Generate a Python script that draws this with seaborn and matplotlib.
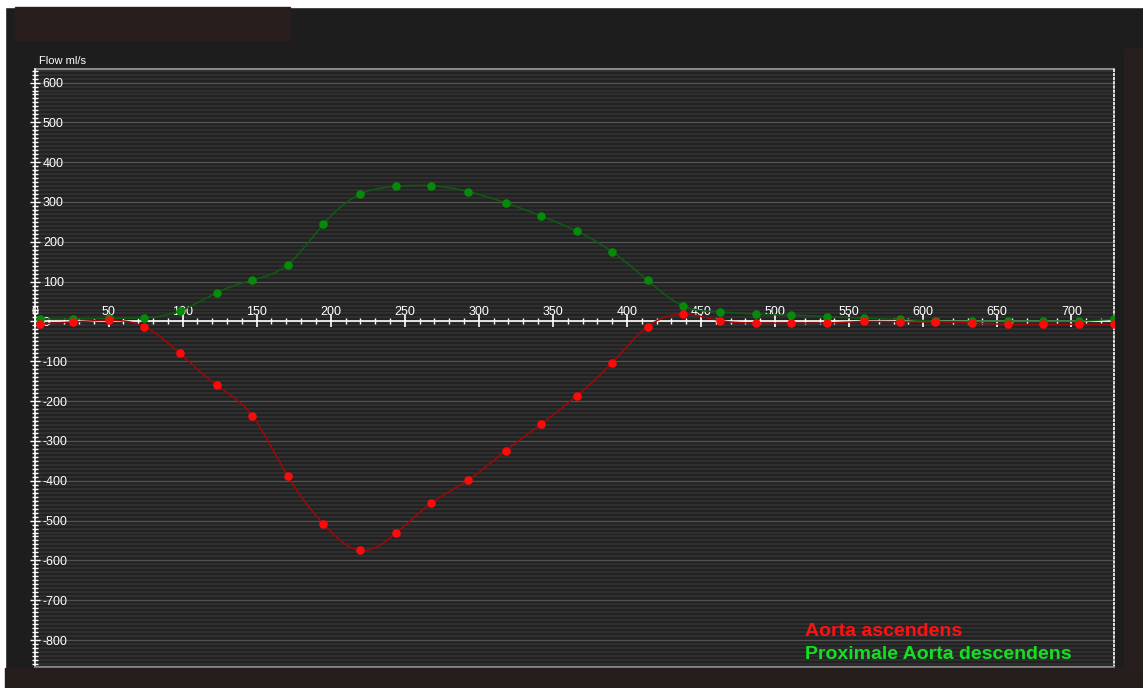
import numpy as np
import pandas as pd
import matplotlib
matplotlib.use("Agg")
import matplotlib.pyplot as plt
from matplotlib.ticker import MultipleLocator
from matplotlib.patches import Rectangle
from matplotlib.lines import Line2D
import seaborn as sns

# Flow measurements over one cardiac cycle (time in ms, flow in ml/s)
time_ms = [4, 26, 50, 74, 98, 123, 147, 171, 195, 220, 244, 268, 293, 318, 342,
           366, 390, 414, 438, 463, 487, 511, 535, 560, 584, 608, 633, 657, 681, 705, 729]
flow_ascendens = [-6, -1, 3, -13, -80, -160, -237, -389, -508, -575, -532, -456, -398, -325, -258,
                  -187, -104, -13, 18, 2, -4, -4, -4, 0, -1, -1, -4, -7, -7, -7, -7]
flow_descendens = [6, 6, 8, 9, 26, 72, 104, 143, 244, 320, 339, 341, 326, 298, 265,
                   227, 175, 103, 39, 24, 18, 16, 12, 8, 5, 1, 1, 1, 1, 1, 6]
series_names = ["Aorta ascendens", "Proximale Aorta descendens"]


def natural_spline(x, y, n=800):
    """Smooth curve through the samples (natural cubic spline)."""
    x = np.asarray(x, float)
    a = np.asarray(y, float)
    k = len(x)
    h = np.diff(x)
    A = np.zeros((k, k))
    r = np.zeros(k)
    A[0, 0] = A[-1, -1] = 1.0
    for i in range(1, k - 1):
        A[i, i - 1] = h[i - 1]
        A[i, i] = 2 * (h[i - 1] + h[i])
        A[i, i + 1] = h[i]
        r[i] = 3 * ((a[i + 1] - a[i]) / h[i] - (a[i] - a[i - 1]) / h[i - 1])
    c = np.linalg.solve(A, r)
    b = (a[1:] - a[:-1]) / h - h * (2 * c[:-1] + c[1:]) / 3
    d = (c[1:] - c[:-1]) / (3 * h)
    xs = np.linspace(x[0], x[-1], n)
    idx = np.clip(np.searchsorted(x, xs) - 1, 0, k - 2)
    dx = xs - x[idx]
    ys = a[idx] + b[idx] * dx + c[idx] * dx ** 2 + d[idx] * dx ** 3
    return xs, ys


sns.set_theme(style="dark")
plt.rcParams["font.family"] = ["Liberation Sans", "DejaVu Sans"]
plt.rcParams["axes.unicode_minus"] = False

W, H = 1143, 688
fig = plt.figure(figsize=(W / 100, H / 100), dpi=100, facecolor="#1d1d1d")

# screen surroundings
fig.patches.append(Rectangle((0, 1 - 7 / H), 1, 7 / H, transform=fig.transFigure, color="white", zorder=0))
fig.patches.append(Rectangle((0, 0), 5 / W, 1, transform=fig.transFigure, color="white", zorder=0))
fig.patches.append(Rectangle((15 / W, 1 - 40 / H), 275 / W, 33 / H, transform=fig.transFigure,
                             color="#271e1d", zorder=0))
fig.patches.append(Rectangle((5 / W, 0), 1 - 5 / W, 20 / H, transform=fig.transFigure,
                             color="#261e1d", zorder=0))
fig.patches.append(Rectangle((1124 / W, 20 / H), 19 / W, 620 / H, transform=fig.transFigure,
                             color="#271f1e", zorder=0))

ax = fig.add_axes([34.5 / W, 21.3 / H, 1079.8 / W, 597.7 / H])
ax.set_facecolor("#222222")

df_asc = pd.DataFrame({"t": time_ms, "flow": flow_ascendens})
df_desc = pd.DataFrame({"t": time_ms, "flow": flow_descendens})

xs, ys = natural_spline(time_ms, flow_descendens)
sns.lineplot(x=xs, y=ys, ax=ax, color="#0d5c10", lw=1.1, zorder=3)
xs, ys = natural_spline(time_ms, flow_ascendens)
sns.lineplot(x=xs, y=ys, ax=ax, color="#a00808", lw=1.1, zorder=3)

sns.scatterplot(data=df_desc, x="t", y="flow", ax=ax, color="#058a0a", s=38,
                linewidth=0, zorder=4)
sns.scatterplot(data=df_asc, x="t", y="flow", ax=ax, color="#ff0a0a", s=38,
                linewidth=0, zorder=4)

ax.set_xlim(0, 729)
ax.set_ylim(-867, 634)
ax.set_xlabel("")
ax.set_ylabel("")
ax.grid(False)

ax.yaxis.set_major_locator(MultipleLocator(100))
ax.yaxis.set_minor_locator(MultipleLocator(10))

# horizontal stripes behind the data, taken from the y tick locations
minor_y = ax.yaxis.get_minorticklocs()
major_y = ax.yaxis.get_majorticklocs()
ax.hlines(minor_y, 0, 1, transform=ax.get_yaxis_transform(), color="#303030", lw=1.4, zorder=0.2)
ax.hlines(major_y, 0, 1, transform=ax.get_yaxis_transform(), color="#525252", lw=1.0, zorder=0.3)

# x axis sits on the zero line with labels above it
ax.xaxis.set_ticks_position("top")
ax.spines["top"].set_position(("data", 0))
ax.spines["top"].set_color("white")
ax.spines["top"].set_linewidth(1.2)
ax.spines["top"].set_zorder(2.6)
ax.xaxis.set_major_locator(MultipleLocator(50))
ax.xaxis.set_minor_locator(MultipleLocator(10))
ax.tick_params(axis="x", which="major", direction="inout", length=8, width=1.2,
               color="white", labelcolor="white", labelsize=9, pad=-1.8)
ax.tick_params(axis="x", which="minor", direction="inout", length=4.5, width=1,
               color="white")

# y axis with labels to the right of the axis line
ax.spines["left"].set_color("white")
ax.spines["left"].set_linewidth(1.2)
ax.tick_params(axis="y", which="major", direction="inout", length=7, width=1,
               color="white", labelcolor="white", labelsize=9, pad=-9.5, left=True)
ax.tick_params(axis="y", which="minor", direction="inout", length=4.5, width=1,
               color="white", left=True)
plt.setp(ax.get_yticklabels(), ha="left")

ax.spines["bottom"].set_color("#8a8a8a")
ax.spines["bottom"].set_linewidth(1.5)
ax.spines["right"].set_color("white")
ax.spines["right"].set_linestyle((0, (1, 1.5)))
ax.spines["right"].set_linewidth(1.2)
ax.plot([0, 1], [1, 1], transform=ax.transAxes, color="#8a8a8a", lw=1.5, clip_on=False)

ax.text(0.004, 1.005, "Flow ml/s", transform=ax.transAxes, color="white", fontsize=8,
        ha="left", va="bottom")

handles = [Line2D([], [], ls="none") for _ in series_names]
leg = ax.legend(handles, series_names, loc="lower left", bbox_to_anchor=(0.7136, 0.006),
                frameon=False, handlelength=0, handletextpad=0, labelspacing=0.3,
                borderpad=0, borderaxespad=0,
                prop={"family": "Liberation Sans", "weight": "bold", "size": 14},
                labelcolor=["#ff1212", "#14e022"])

fig.savefig("out.png", dpi=100, facecolor=fig.get_facecolor())
